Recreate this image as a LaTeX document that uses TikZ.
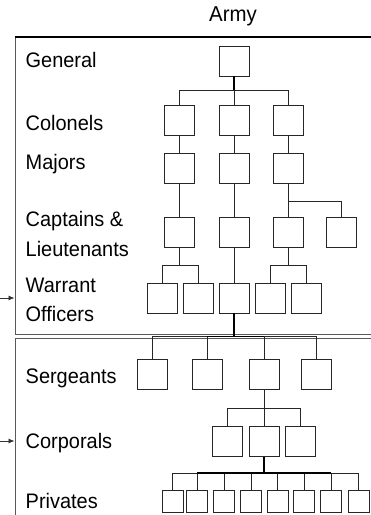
\documentclass[tikz,border=0pt]{standalone}
\usepackage{fontspec}
\setmainfont{Liberation Sans}[FakeStretch=0.95]
\usetikzlibrary{arrows.meta}

\begin{document}
\begin{tikzpicture}[x=1pt,y=-1pt,
    rank/.style={draw=black!85,line width=0.9pt,minimum width=30pt,minimum height=30pt,inner sep=0pt},
    private/.style={rank,minimum width=21pt,minimum height=22pt},
    title/.style={font=\fontsize{21}{24}\selectfont,anchor=base west,inner sep=0pt},
    link/.style={black!85,line width=0.9pt},
    bold/.style={black,line width=1.8pt},
    frame/.style={black!65,line width=1pt},
    feed/.style={black!80,line width=0.8pt,-{Latex[length=6pt,width=5pt]}}]
    \useasboundingbox (0,0) rectangle (371,515);
    \node[font=\fontsize{21.5}{24}\selectfont,anchor=base,inner sep=0pt] (army) at (233,21) {Army};

    \draw[frame] (15,37) -- (15,334) -- (371,334);
    \draw[black,line width=1.3pt] (15,37) -- (371,37);
    \draw[frame] (371,338) -- (15,338) -- (15,515);
    \coordinate (wo in) at (0,298);  \coordinate (wo tip) at (14.5,298);
    \coordinate (cpl in) at (0,441); \coordinate (cpl tip) at (14.5,441);
    \draw[feed] (wo in) -- (wo tip);
    \draw[feed] (cpl in) -- (cpl tip);

    \node[title] (lgen) at (25.5,67.7) {General};
    \node[title] (lcol) at (25.5,130) {Colonels};
    \node[title] (lmaj) at (25.5,169) {Majors};
    \node[title] (lcap) at (25.5,226.5) {Captains \&};
    \node[title] (llt) at (25.5,256) {Lieutenants};
    \node[title] (lwo) at (25.5,292.5) {Warrant};
    \node[title] (loff) at (25.5,321) {Officers};
    \node[title] (lsgt) at (25.5,383.5) {Sergeants};
    \node[title] (lcpl) at (25.5,448) {Corporals};
    \node[title] (lpvt) at (25.5,508) {Privates};

    \node[rank] (gen) at (234,61) {};
    \foreach \x [count=\i] in {179.5,234,288} {
        \node[rank] (col\i) at (\x,120.5) {};
        \node[rank] (maj\i) at (\x,168.5) {};
        \node[rank] (cap\i) at (\x,232) {};
    }
    \node[rank] (cap4) at (341,232) {};
    \foreach \x [count=\i] in {162,198,234,270,306.5}
        \node[rank] (wo\i) at (\x,298) {};
    \foreach \x [count=\i] in {152,207,264,316}
        \node[rank] (sgt\i) at (\x,374) {};
    \foreach \x [count=\i] in {227,264,300}
        \node[rank] (cpl\i) at (\x,441.5) {};
    \foreach \x [count=\i] in {172.5,197,224,251,277.5,304,331,358.5}
        \node[private] (pvt\i) at (\x,501) {};

    \draw[bold] (gen.south) -- ++(0,14) coordinate (colbar);
    \draw[link] (col1.north) |- (colbar) -| (col3.north);
    \draw[link] (colbar) -- (col2.north);
    \foreach \i in {1,2,3} {
        \draw[link] (col\i) -- (maj\i);
        \draw[link] (maj\i) -- (cap\i);
    }
    \draw[link] (maj3.south) ++(0,17) -| (cap4.north);

    \draw[link] (cap1.south) -- ++(0,18) coordinate (wobar1);
    \draw[link] (wo1.north) |- (wobar1) -| (wo2.north);
    \draw[link] (cap2) -- (wo3);
    \draw[link] (cap3.south) -- ++(0,18) coordinate (wobar2);
    \draw[link] (wo4.north) |- (wobar2) -| (wo5.north);

    \draw[bold] (wo3.south) -- ++(0,23) coordinate (sgtbar);
    \draw[link] (sgt1.north) |- (sgtbar) -| (sgt4.north);
    \draw[link] (sgt2.north) -- (sgt2.north |- sgtbar);
    \draw[link] (sgt3.north) -- (sgt3.north |- sgtbar);
    \draw[bold] (sgt2.north |- sgtbar) -- (sgt3.north |- sgtbar);

    \draw[link] (sgt3.south) -- ++(0,19) coordinate (cplbar);
    \draw[link] (cpl1.north) |- (cplbar) -| (cpl3.north);
    \draw[link] (cplbar) -- (cpl2.north);

    \draw[bold] (cpl2.south) -- ++(0,16) coordinate (pvtbar);
    \draw[link] (pvt1.north) |- (pvtbar) -| (pvt8.north);
    \foreach \i in {2,...,7}
        \draw[link] (pvt\i.north) -- (pvt\i.north |- pvtbar);
    \draw[bold] (pvt2.north |- pvtbar) -- (pvt7.north |- pvtbar);
\end{tikzpicture}
\end{document}
